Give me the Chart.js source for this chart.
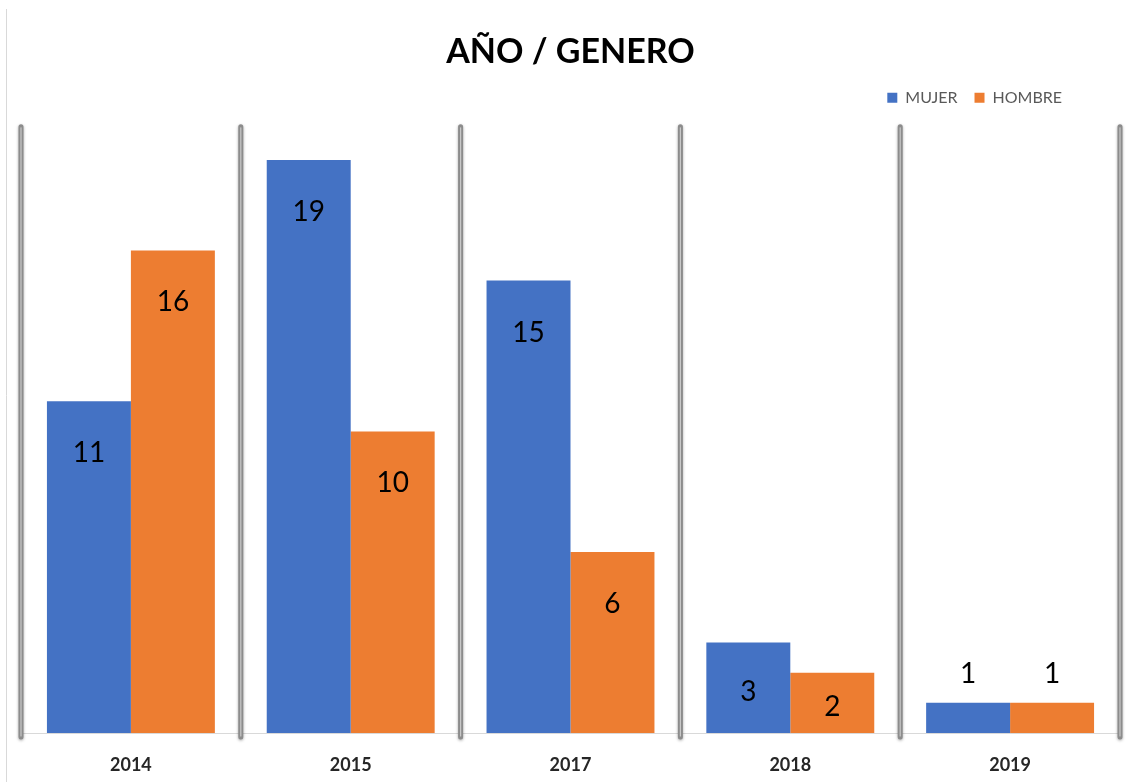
<!DOCTYPE html>
<html>
<head>
<meta charset="utf-8">
<script src="https://cdn.jsdelivr.net/npm/chart.js@4/dist/chart.umd.min.js"></script>
<style>
  html, body { margin: 0; padding: 0; background: #ffffff; }
  #wrap { position: relative; width: 1128px; height: 782px; }
</style>
</head>
<body>
<div id="wrap"><canvas id="c" width="1128" height="782"></canvas></div>
<script>
const categories = ['2014', '2015', '2017', '2018', '2019'];
const mujer = [11, 19, 15, 3, 1];
const hombre = [16, 10, 6, 2, 1];
const seriesNames = ['MUJER', 'HOMBRE'];
const titleText = 'AÑO / GENERO';

const BLUE = '#4472C4';
const ORANGE = '#ED7D31';

const frameLine = {
  id: 'frameLine',
  beforeDraw(chart) {
    const ctx = chart.ctx;
    ctx.save();
    ctx.strokeStyle = '#d9d9d9';
    ctx.lineWidth = 1;
    ctx.beginPath();
    ctx.moveTo(6.5, 9);
    ctx.lineTo(6.5, chart.height);
    ctx.stroke();
    ctx.restore();
  }
};

const dividers = {
  id: 'dividers',
  beforeDatasetsDraw(chart) {
    const x = chart.scales.x;
    const n = chart.data.labels.length;
    const step = (x.right - x.left) / n;
    const top = chart.chartArea.top - 3;
    const bottom = chart.chartArea.bottom + 4;
    const ctx = chart.ctx;
    ctx.save();
    ctx.lineCap = 'round';
    for (let i = 0; i <= n; i++) {
      const px = x.left + i * step;
      ctx.shadowColor = 'rgba(0,0,0,0.35)';
      ctx.shadowBlur = 3;
      ctx.shadowOffsetX = 0;
      ctx.shadowOffsetY = 1;
      ctx.strokeStyle = '#8c8c8c';
      ctx.lineWidth = 5;
      ctx.beginPath();
      ctx.moveTo(px, top);
      ctx.lineTo(px, bottom);
      ctx.stroke();
      ctx.shadowColor = 'transparent';
      ctx.strokeStyle = '#c8c8c8';
      ctx.lineWidth = 1.2;
      ctx.beginPath();
      ctx.moveTo(px, top + 1);
      ctx.lineTo(px, bottom - 1);
      ctx.stroke();
    }
    ctx.restore();
  }
};

const valueLabels = {
  id: 'valueLabels',
  afterDatasetsDraw(chart) {
    const ctx = chart.ctx;
    ctx.save();
    ctx.font = '28px Lato, sans-serif';
    ctx.fillStyle = '#000000';
    ctx.textAlign = 'center';
    ctx.textBaseline = 'middle';
    chart.data.datasets.forEach((ds, di) => {
      const meta = chart.getDatasetMeta(di);
      meta.data.forEach((el, i) => {
        const h = el.base - el.y;
        let y;
        if (h < 40) y = el.y - 29;
        else y = el.y + Math.min(52, h / 2 + 4);
        ctx.fillText(String(ds.data[i]), el.x, y);
      });
    });
    ctx.restore();
  }
};

const legendTweaks = {
  id: 'legendTweaks',
  beforeInit(chart) {
    const lg = chart.legend;
    if (lg) {
      const origFit = lg.fit;
      lg.fit = function () {
        origFit.call(this);
        this.height += 14;
      };
    }
  },
  afterLayout(chart) {
    if (chart.legend) {
      chart.legend.right -= 41;
    }
  }
};

new Chart(document.getElementById('c'), {
  type: 'bar',
  data: {
    labels: categories,
    datasets: [
      { label: seriesNames[0], data: mujer, backgroundColor: BLUE, borderWidth: 0 },
      { label: seriesNames[1], data: hombre, backgroundColor: ORANGE, borderWidth: 0 }
    ]
  },
  options: {
    responsive: false,
    animation: false,
    devicePixelRatio: 1,
    layout: { padding: { left: 21, right: 8, top: 0, bottom: 0 } },
    datasets: {
      bar: { categoryPercentage: 0.764, barPercentage: 1.0 }
    },
    scales: {
      x: {
        grid: { display: false, drawTicks: false },
        border: { display: true, color: '#d9d9d9', width: 1 },
        ticks: {
          color: '#262626',
          font: { family: 'Lato, sans-serif', size: 18, weight: 'bold' },
          padding: 21
        },
        afterFit(scale) { scale.height = 49; }
      },
      y: {
        display: false,
        min: 0,
        max: 20
      }
    },
    plugins: {
      title: {
        display: true,
        text: titleText,
        color: '#000000',
        font: { family: 'Lato, sans-serif', size: 34, weight: 'bold' },
        padding: { top: 32, bottom: 0 }
      },
      legend: {
        display: true,
        position: 'top',
        align: 'end',
        labels: {
          boxWidth: 10,
          boxHeight: 10,
          padding: 17,
          color: '#595959',
          font: { family: 'Lato, sans-serif', size: 16 }
        }
      },
      tooltip: { enabled: false }
    }
  },
  plugins: [frameLine, dividers, valueLabels, legendTweaks]
});
</script>
</body>
</html>
